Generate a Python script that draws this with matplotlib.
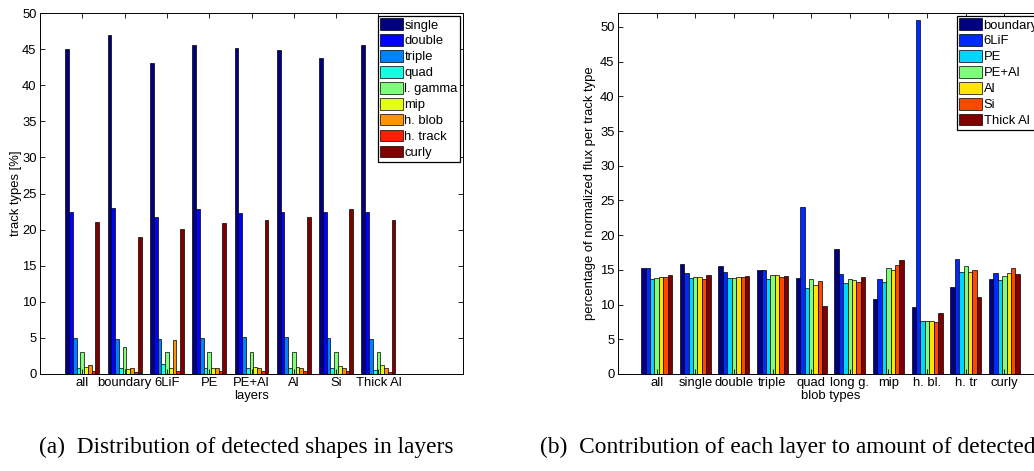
import numpy as np
import matplotlib
matplotlib.use("Agg")
import matplotlib.pyplot as plt

# left panel: share of each track type per layer [%]
layers = ["all", "boundary", "6LiF", "PE", "PE+Al", "Al", "Si", "Thick Al"]
track_types = ["single", "double", "triple", "quad", "l. gamma", "mip",
               "h. blob", "h. track", "curly"]
single  = [45.0, 46.9, 43.1, 45.5, 45.2, 44.9, 43.8, 45.5]
double  = [22.5, 23.0, 21.7, 22.8, 22.3, 22.4, 22.5, 22.4]
triple  = [5.0, 4.9, 4.9, 5.0, 5.1, 5.1, 5.0, 4.9]
quad    = [0.8, 0.8, 1.4, 0.8, 0.8, 0.8, 0.8, 0.6]
lgamma  = [3.1, 3.7, 3.0, 3.1, 3.1, 3.1, 3.0, 3.1]
mip     = [1.0, 0.7, 0.9, 0.9, 1.0, 1.0, 1.1, 1.2]
hblob   = [1.2, 0.9, 4.7, 0.8, 0.8, 0.8, 0.8, 0.9]
htrack  = [0.4, 0.3, 0.4, 0.4, 0.4, 0.4, 0.4, 0.3]
curly   = [21.1, 19.0, 20.1, 20.9, 21.3, 21.8, 22.9, 21.3]
left_series = [single, double, triple, quad, lgamma, mip, hblob, htrack, curly]

# right panel: contribution of each layer per track type [%]
blob_types = ["all", "single", "double", "triple", "quad", "long g.", "mip",
              "h. bl.", "h. tr", "curly"]
layer_names = ["boundary", "6LiF", "PE", "PE+Al", "Al", "Si", "Thick Al"]
r_boundary = [15.2, 15.8, 15.6, 14.95, 13.85, 17.95, 10.8, 9.7, 12.6, 13.65]
r_6lif     = [15.2, 14.5, 14.65, 14.95, 24.0, 14.4, 13.65, 51.0, 16.5, 14.5]
r_pe       = [13.65, 13.8, 13.8, 13.65, 12.4, 13.1, 13.2, 7.6, 14.75, 13.5]
r_peal     = [13.9, 14.0, 13.8, 14.2, 13.75, 13.65, 15.2, 7.65, 15.5, 14.1]
r_al       = [14.0, 14.0, 14.0, 14.2, 12.8, 13.5, 14.95, 7.6, 14.65, 14.5]
r_si       = [14.0, 13.65, 14.0, 14.0, 13.4, 13.2, 15.65, 7.5, 14.95, 15.3]
r_thick    = [14.2, 14.3, 14.1, 14.1, 9.8, 14.0, 16.4, 8.75, 11.15, 14.35]
right_series = [r_boundary, r_6lif, r_pe, r_peal, r_al, r_si, r_thick]

plt.rcParams["font.family"] = ["Liberation Sans", "DejaVu Sans"]
FS = 9.4


def grouped_bars(ax, series, labels, cats, xmax, ymax, yticks):
    n = len(series)
    x = np.arange(1, len(cats) + 1)
    w = 0.8 / n
    cols = plt.cm.jet(np.linspace(0, 1, n))
    for i, (vals, lab) in enumerate(zip(series, labels)):
        ax.bar(x - 0.4 + w * (i + 0.5), vals, w, color=cols[i],
               edgecolor="black", linewidth=0.5, label=lab)
    ax.set_xlim(0, xmax)
    ax.set_ylim(0, ymax)
    ax.set_xticks(x)
    ax.set_xticklabels(cats)
    ax.set_yticks(yticks)
    ax.tick_params(direction="in", top=True, right=True, length=3.5,
                   width=0.6, labelsize=FS, pad=2.5)
    for s in ax.spines.values():
        s.set_linewidth(0.7)
    leg = ax.legend(loc="upper right", fontsize=FS, frameon=True, fancybox=False,
                    edgecolor="black", framealpha=1, borderpad=0.2,
                    labelspacing=0.2, handlelength=1.75, handleheight=1.0,
                    handletextpad=0.1, borderaxespad=0.2)
    leg.get_frame().set_linewidth(0.9)


fig = plt.figure(figsize=(10.34, 4.71), dpi=100)
ax1 = fig.add_axes([40 / 1034, 97 / 471, 423 / 1034, 361 / 471])
ax2 = fig.add_axes([618 / 1034, 97 / 471, 425 / 1034, 361 / 471])

grouped_bars(ax1, left_series, track_types, layers, 10, 50, range(0, 51, 5))
ax1.set_xlabel("layers", fontsize=FS, labelpad=0.5)
ax1.set_ylabel("track types [%]", fontsize=FS, labelpad=0)

grouped_bars(ax2, right_series, layer_names, blob_types, 11, 52, range(0, 51, 5))
ax2.set_xlabel("blob types", fontsize=FS, labelpad=0.5)
ax2.set_ylabel("percentage of normalized flux per track type", fontsize=FS,
               labelpad=3)

fig.text(246 / 1034, 1 - 447 / 471, "(a)  Distribution of detected shapes in layers",
         ha="center", va="center", family="Liberation Serif", fontsize=16.8)
fig.text(540 / 1034, 1 - 447 / 471,
         "(b)  Contribution of each layer to amount of detected shapes",
         ha="left", va="center", family="Liberation Serif", fontsize=16.8)

fig.savefig("out.png", dpi=100)
